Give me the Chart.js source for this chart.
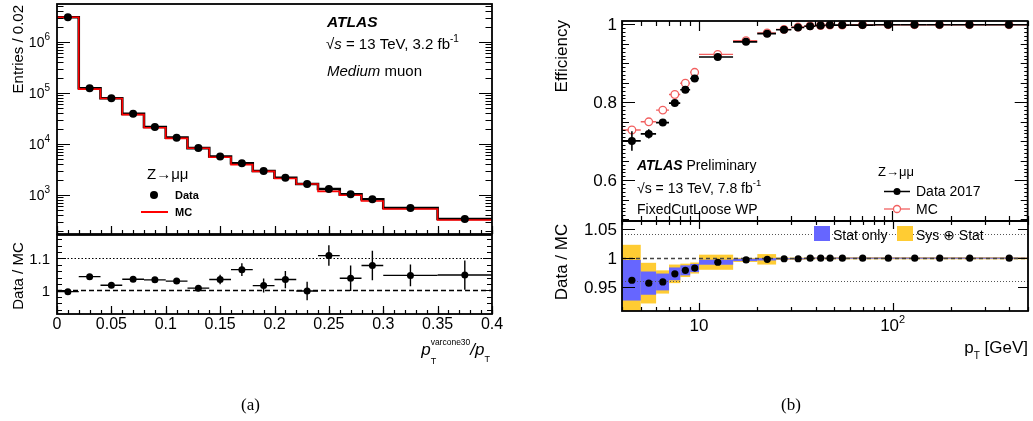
<!DOCTYPE html>
<html>
<head>
<meta charset="utf-8">
<script src="https://cdn.jsdelivr.net/npm/chart.js@4.4.1/dist/chart.umd.min.js"></script>
<style>
  html, body { margin: 0; padding: 0; background: #fff; }
  #wrap { position: relative; width: 1033px; height: 421px; }
  #wrap canvas { position: absolute; left: 0; top: 0; width: 1033px; height: 421px; }
</style>
</head>
<body>
<div id="wrap">
  <canvas id="isoMain" width="1033" height="421"></canvas>
  <canvas id="isoRatio" width="1033" height="421"></canvas>
  <canvas id="effMain" width="1033" height="421"></canvas>
  <canvas id="effRatio" width="1033" height="421"></canvas>
</div>
<script>
// (a) isolation variable, bins of 0.02 then two wide bins
const isoEdges = [0, 0.02, 0.04, 0.06, 0.08, 0.10, 0.12, 0.14, 0.16, 0.18, 0.20, 0.22, 0.24, 0.26, 0.28, 0.30, 0.35, 0.40];
const isoData = [3.05e6, 1.24e5, 7.9e4, 3.9e4, 2.15e4, 1.33e4, 8300, 5700, 4200, 2950, 2180, 1640, 1310, 1030, 824, 556, 339];
const isoMC = [3.06e6, 1.19e5, 7.78e4, 3.77e4, 2.08e4, 1.29e4, 8240, 5510, 3940, 2910, 2110, 1640, 1180, 992, 764, 531, 323];
const isoRatio = [0.996, 1.043, 1.016, 1.035, 1.033, 1.029, 1.007, 1.034, 1.065, 1.015, 1.034, 0.998, 1.109, 1.038, 1.078, 1.047, 1.048];
const isoRatioErr = [0.003, 0.005, 0.005, 0.005, 0.006, 0.007, 0.01, 0.015, 0.02, 0.022, 0.027, 0.029, 0.032, 0.04, 0.046, 0.034, 0.046];

// (b) efficiency vs pT
const ptEdges = [4, 5, 6, 7, 8, 9, 10, 15, 20, 25, 30, 35, 40, 45, 50, 60, 80, 110, 150, 200, 300, 500];
const effData = [0.701, 0.719, 0.748, 0.798, 0.832, 0.861, 0.916, 0.955, 0.976, 0.986, 0.992, 0.995, 0.997, 0.998, 0.998, 0.998, 0.999, 0.999, 0.999, 0.999, 0.999];
const effDataErr = [0.025, 0.012, 0.008, 0.006, 0.005, 0.004, 0.003, 0.002, 0.001, 0.001, 0, 0, 0, 0, 0, 0, 0, 0, 0, 0, 0];
const effMC = [0.729, 0.750, 0.780, 0.820, 0.849, 0.877, 0.923, 0.958, 0.978, 0.987, 0.993, 0.996, 0.997, 0.998, 0.998, 0.999, 0.999, 0.999, 0.999, 0.999, 0.999];
const sfRatio = [0.961, 0.956, 0.958, 0.972, 0.978, 0.982, 0.992, 0.996, 0.997, 0.998, 0.998, 0.999, 0.999, 0.999, 0.999, 0.999, 0.999, 0.999, 0.999, 0.999, 0.999];
const sfStat = [0.035, 0.02, 0.0145, 0.011, 0.0086, 0.007, 0.0043, 0.002, 0.002, 0.001, 0.001, 0.001, 0.001, 0.001, 0.001, 0.001, 0.001, 0.001, 0.001, 0.001, 0.001];
const sfTot = [0.061, 0.035, 0.02, 0.016, 0.0115, 0.0095, 0.013, 0.0035, 0.009, 0.002, 0.002, 0.002, 0.002, 0.002, 0.002, 0.002, 0.002, 0.002, 0.002, 0.002, 0.002];

const F = (s, st) => (st ? st + ' ' : '') + s + 'px "Liberation Sans", "DejaVu Sans", sans-serif';
const P = (t, f, dy, stay) => ({ t, f, dy, stay });

// text made of pieces (sup / sub / italic)
function rich(ctx, x, y, parts, align, rot) {
  ctx.save();
  ctx.translate(x, y);
  if (rot) ctx.rotate(rot);
  ctx.textAlign = 'left';
  ctx.textBaseline = 'alphabetic';
  let w = 0;
  parts.forEach(p => { ctx.font = p.f; if (!p.stay) w += ctx.measureText(p.t).width; });
  let cx = align === 'right' ? -w : align === 'center' ? -w / 2 : 0;
  parts.forEach(p => {
    ctx.font = p.f;
    ctx.fillStyle = '#000';
    ctx.fillText(p.t, cx, p.dy || 0);
    if (!p.stay) cx += ctx.measureText(p.t).width;
  });
  ctx.restore();
}

const deco = {
  id: 'deco',
  beforeDatasetsDraw(chart, args, o) {
    const { ctx, chartArea: a, scales: { x, y } } = chart;
    ctx.save();
    ctx.beginPath(); ctx.rect(a.left, a.top, a.width, a.height); ctx.clip();
    (o.bands || []).forEach(b => {
      ctx.fillStyle = b.color;
      b.mid.forEach((m, i) => {
        const x0 = x.getPixelForValue(b.edges[i]), x1 = x.getPixelForValue(b.edges[i + 1]);
        const y0 = y.getPixelForValue(m + b.err[i]), y1 = y.getPixelForValue(m - b.err[i]);
        ctx.fillRect(x0, y0, x1 - x0, y1 - y0);
      });
    });
    (o.hlines || []).forEach(l => {
      const py = Math.round(y.getPixelForValue(l.v)) + 0.5;
      ctx.beginPath();
      ctx.setLineDash(l.dash || []);
      ctx.strokeStyle = l.color || '#000';
      ctx.lineWidth = l.w || 1;
      ctx.moveTo(a.left, py); ctx.lineTo(a.right, py);
      ctx.stroke();
    });
    ctx.restore();
  },
  beforeDatasetDraw(chart, args) {
    const ds = chart.data.datasets[args.index];
    if (!ds.errX && !ds.errY) return;
    const { ctx, chartArea: a, scales: { x, y } } = chart;
    ctx.save();
    ctx.beginPath(); ctx.rect(a.left, a.top, a.width, a.height); ctx.clip();
    ctx.strokeStyle = ds.errColor || '#000';
    ctx.lineWidth = ds.errWidth || 1.5;
    ds.data.forEach((p, i) => {
      const px = x.getPixelForValue(p.x), py = y.getPixelForValue(p.y);
      ctx.beginPath();
      if (ds.errX) {
        ctx.moveTo(x.getPixelForValue(ds.errX[i][0]), py);
        ctx.lineTo(x.getPixelForValue(ds.errX[i][1]), py);
      }
      if (ds.errY && ds.errY[i]) {
        ctx.moveTo(px, y.getPixelForValue(p.y + ds.errY[i]));
        ctx.lineTo(px, y.getPixelForValue(p.y - ds.errY[i]));
      }
      ctx.stroke();
    });
    ctx.restore();
  },
  afterDraw(chart, args, o) {
    const { ctx, chartArea: a, scales } = chart;
    ctx.save();
    ctx.strokeStyle = '#000';
    ctx.lineWidth = 1.2;
    (o.ticks || []).forEach(t => {
      const s = scales[t.axis];
      ctx.beginPath();
      t.vals.forEach(v => {
        if (v < s.min - 1e-9 || v > s.max + 1e-9) return;
        const p = Math.round(s.getPixelForValue(v)) + 0.5;
        if (t.side === 'bottom') { ctx.moveTo(p, a.bottom); ctx.lineTo(p, a.bottom - t.len); }
        if (t.side === 'top') { ctx.moveTo(p, a.top); ctx.lineTo(p, a.top + t.len); }
        if (t.side === 'left') { ctx.moveTo(a.left, p); ctx.lineTo(a.left + t.len, p); }
        if (t.side === 'right') { ctx.moveTo(a.right, p); ctx.lineTo(a.right - t.len, p); }
      });
      ctx.stroke();
    });
    ctx.lineWidth = 1.8;
    ctx.strokeRect(a.left, a.top, a.width, a.height);
    (o.labels || []).forEach(l => {
      const p = scales[l.axis].getPixelForValue(l.v);
      if (l.axis === 'x') rich(ctx, p, l.y, l.parts, 'center');
      else rich(ctx, l.x, p + l.dy, l.parts, 'right');
    });
    (o.marks || []).forEach(m => {
      ctx.setLineDash([]);
      if (m.type === 'line') {
        ctx.beginPath(); ctx.strokeStyle = m.color; ctx.lineWidth = m.w;
        ctx.moveTo(m.x1, m.y); ctx.lineTo(m.x2, m.y); ctx.stroke();
      } else if (m.type === 'dot') {
        ctx.beginPath(); ctx.arc(m.x, m.y, m.r, 0, Math.PI * 2);
        ctx.fillStyle = m.fill; ctx.fill();
        if (m.stroke) { ctx.strokeStyle = m.stroke; ctx.lineWidth = 1.3; ctx.stroke(); }
      } else if (m.type === 'rect') {
        ctx.fillStyle = m.fill; ctx.fillRect(m.x, m.y, m.w, m.h);
      }
    });
    (o.texts || []).forEach(t => rich(ctx, t.x, t.y, t.parts, t.align, t.rot));
    ctx.restore();
  }
};
Chart.register(deco);

function opts(pad, xs, ys, d) {
  return {
    responsive: false, animation: false, events: [],
    layout: { padding: pad },
    plugins: { legend: { display: false }, tooltip: { enabled: false }, deco: d },
    scales: { x: Object.assign({ display: false }, xs), y: Object.assign({ display: false }, ys) }
  };
}

const range = (a, b, st) => { const r = []; for (let v = a; v <= b + 1e-9; v += st) r.push(+v.toFixed(4)); return r; };
const logMinor = (d0, d1) => { const r = []; for (let d = d0; d <= d1; d++) for (let m = 2; m <= 9; m++) r.push(m * Math.pow(10, d)); return r; };
const mids = e => e.slice(0, -1).map((v, i) => (v + e[i + 1]) / 2);
const bins = e => e.slice(0, -1).map((v, i) => [v, e[i + 1]]);
const steps = (e, vals) => e.map((v, i) => ({ x: v, y: vals[Math.min(i, vals.length - 1)] }));

const isoC = mids(isoEdges);
const ptC = mids(ptEdges);
const rot = -Math.PI / 2;
const isoMajor = range(0, 0.4, 0.05), isoMinor = range(0, 0.4, 0.01);

// ---------- (a) main ----------
new Chart(document.getElementById('isoMain'), {
  type: 'scatter',
  data: { datasets: [
    { data: isoC.map((x, i) => ({ x, y: isoData[i] })), pointRadius: 4, pointBackgroundColor: '#000', pointBorderWidth: 0 },
    { type: 'line', data: steps(isoEdges, isoMC), stepped: 'before', borderColor: '#ff0000', borderWidth: 1.6, pointRadius: 0 },
    { type: 'line', data: steps(isoEdges, isoData), stepped: 'before', borderColor: '#000', borderWidth: 2.6, pointRadius: 0 }
  ]},
  options: opts({ left: 57, top: 4, right: 541, bottom: 187 },
    { type: 'linear', min: 0, max: 0.4 },
    { type: 'logarithmic', min: 172, max: 5.55e6 },
    {
      ticks: [
        { axis: 'x', side: 'bottom', vals: isoMajor, len: 8 },
        { axis: 'x', side: 'bottom', vals: isoMinor, len: 4 },
        { axis: 'y', side: 'left', vals: [1e3, 1e4, 1e5, 1e6], len: 13 },
        { axis: 'y', side: 'left', vals: logMinor(2, 6), len: 6.5 },
        { axis: 'y', side: 'right', vals: [1e3, 1e4, 1e5, 1e6], len: 13 },
        { axis: 'y', side: 'right', vals: logMinor(2, 6), len: 6.5 }
      ],
      labels: [3, 4, 5, 6].map(e => ({ axis: 'y', v: Math.pow(10, e), x: 50, dy: 5, parts: [P('10', F(14)), P(String(e), F(10), -7)] })),
      marks: [
        { type: 'dot', x: 154, y: 195, r: 4, fill: '#000' },
        { type: 'line', x1: 141, x2: 168, y: 212, color: '#ff0000', w: 2 }
      ],
      texts: [
        { x: 23, y: 5, rot, align: 'right', parts: [P('Entries / 0.02', F(15))] },
        { x: 327, y: 27, parts: [P('ATLAS', F(15.5, 'italic bold'))] },
        { x: 326, y: 49, parts: [P('√', F(15)), P('s', F(15, 'italic')), P(' = 13 TeV, 3.2 fb', F(15)), P('-1', F(10), -7)] },
        { x: 327, y: 76, parts: [P('Medium', F(15, 'italic')), P(' muon', F(15))] },
        { x: 147, y: 179, parts: [P('Z→μμ', F(15))] },
        { x: 175, y: 199, parts: [P('Data', F(11, 'bold'))] },
        { x: 175, y: 216, parts: [P('MC', F(11, 'bold'))] },
        { x: 241, y: 410, parts: [P('(a)', '17px "Liberation Serif", serif')] }
      ]
    })
});

// ---------- (a) ratio ----------
new Chart(document.getElementById('isoRatio'), {
  type: 'scatter',
  data: { datasets: [
    { data: isoC.map((x, i) => ({ x, y: isoRatio[i] })), errX: bins(isoEdges), errY: isoRatioErr, errWidth: 1.4,
      pointRadius: 3.5, pointBackgroundColor: '#000', pointBorderWidth: 0 }
  ]},
  options: opts({ left: 57, top: 235, right: 541, bottom: 107 },
    { type: 'linear', min: 0, max: 0.4 },
    { type: 'linear', min: 0.926, max: 1.1735 },
    {
      hlines: [{ v: 1, dash: [5, 3], w: 1.3 }, { v: 1.1, dash: [1.5, 2], w: 1.2 }],
      ticks: [
        { axis: 'x', side: 'bottom', vals: isoMajor, len: 8 },
        { axis: 'x', side: 'bottom', vals: isoMinor, len: 4 },
        { axis: 'y', side: 'left', vals: [1, 1.1], len: 9 },
        { axis: 'y', side: 'left', vals: range(0.94, 1.16, 0.02), len: 5 },
        { axis: 'y', side: 'right', vals: [1, 1.1], len: 9 },
        { axis: 'y', side: 'right', vals: range(0.94, 1.16, 0.02), len: 5 }
      ],
      labels: [
        { axis: 'y', v: 1.1, x: 50, dy: 5.5, parts: [P('1.1', F(15))] },
        { axis: 'y', v: 1, x: 50, dy: 5.5, parts: [P('1', F(15))] }
      ].concat(isoMajor.map(v => ({ axis: 'x', v, y: 329, parts: [P(String(v), F(16))] }))),
      texts: [
        { x: 23, y: 276, rot, align: 'center', parts: [P('Data / MC', F(15))] },
        { x: 490, y: 355, align: 'right', parts: [
          P('p', F(17, 'italic')), P('T', F(9), 9, true), P('varcone30', F(8.5), -10),
          P('/', F(17, 'italic')), P('p', F(17, 'italic')), P('T', F(9), 7)] }
      ]
    })
});

// ---------- (b) main ----------
const effMajor = [0.6, 0.8, 1.0];
new Chart(document.getElementById('effMain'), {
  type: 'scatter',
  data: { datasets: [
    { data: ptC.map((x, i) => ({ x, y: effData[i] })), errX: bins(ptEdges), errY: effDataErr, errWidth: 1.6,
      pointRadius: 4, pointBackgroundColor: '#000', pointBorderWidth: 0 },
    { data: ptC.map((x, i) => ({ x, y: effMC[i] })), errX: bins(ptEdges), errColor: '#f26060', errWidth: 1.4,
      pointRadius: 3.8, pointBackgroundColor: '#fff', pointBorderColor: '#f26060', pointBorderWidth: 1.3 }
  ]},
  options: opts({ left: 622, top: 21, right: 5, bottom: 200 },
    { type: 'logarithmic', min: 4, max: 500 },
    { type: 'linear', min: 0.4956, max: 1.0085 },
    {
      ticks: [
        { axis: 'x', side: 'bottom', vals: [10, 100], len: 10 },
        { axis: 'x', side: 'bottom', vals: logMinor(0, 2), len: 5 },
        { axis: 'x', side: 'top', vals: [10, 100], len: 10 },
        { axis: 'x', side: 'top', vals: logMinor(0, 2), len: 5 },
        { axis: 'y', side: 'left', vals: effMajor, len: 13 },
        { axis: 'y', side: 'left', vals: range(0.5, 1, 0.05), len: 7 },
        { axis: 'y', side: 'left', vals: range(0.5, 1, 0.01), len: 3.5 },
        { axis: 'y', side: 'right', vals: effMajor, len: 13 },
        { axis: 'y', side: 'right', vals: range(0.5, 1, 0.05), len: 7 },
        { axis: 'y', side: 'right', vals: range(0.5, 1, 0.01), len: 3.5 }
      ],
      labels: effMajor.map(v => ({ axis: 'y', v, x: 617, dy: 6, parts: [P(String(v), F(17))] })),
      marks: [
        { type: 'line', x1: 884, x2: 910, y: 191.5, color: '#000', w: 1.5 },
        { type: 'dot', x: 897, y: 191.5, r: 3.5, fill: '#000' },
        { type: 'line', x1: 884, x2: 910, y: 209, color: '#f26060', w: 1.3 },
        { type: 'dot', x: 897, y: 209, r: 3.5, fill: '#fff', stroke: '#f26060' }
      ],
      texts: [
        { x: 567, y: 20, rot, align: 'right', parts: [P('Efficiency', F(17))] },
        { x: 637, y: 170, parts: [P('ATLAS', F(14, 'italic bold')), P(' Preliminary', F(14))] },
        { x: 637, y: 193, parts: [P('√s = 13 TeV, 7.8 fb', F(14)), P('-1', F(9.5), -7)] },
        { x: 637, y: 214, parts: [P('FixedCutLoose WP', F(14))] },
        { x: 878, y: 176, parts: [P('Z→μμ', F(13))] },
        { x: 916, y: 196, parts: [P('Data 2017', F(14))] },
        { x: 916, y: 214, parts: [P('MC', F(14))] },
        { x: 781, y: 410, parts: [P('(b)', '17px "Liberation Serif", serif')] }
      ]
    })
});

// ---------- (b) ratio ----------
new Chart(document.getElementById('effRatio'), {
  type: 'scatter',
  data: { datasets: [
    { data: ptC.map((x, i) => ({ x, y: sfRatio[i] })), pointRadius: 3.6, pointBackgroundColor: '#000', pointBorderWidth: 0 }
  ]},
  options: opts({ left: 622, top: 221, right: 5, bottom: 110 },
    { type: 'logarithmic', min: 4, max: 500 },
    { type: 'linear', min: 0.908, max: 1.063 },
    {
      bands: [
        { edges: ptEdges, mid: sfRatio, err: sfTot, color: '#ffcc33' },
        { edges: ptEdges, mid: sfRatio, err: sfStat, color: '#6666ff' }
      ],
      hlines: [
        { v: 1, dash: [4, 3], color: '#444', w: 1.3 },
        { v: 1.04, dash: [1, 2], color: '#555', w: 1 },
        { v: 0.96, dash: [1, 2], color: '#555', w: 1 }
      ],
      ticks: [
        { axis: 'x', side: 'bottom', vals: [10, 100], len: 8 },
        { axis: 'x', side: 'bottom', vals: logMinor(0, 2), len: 4 },
        { axis: 'x', side: 'top', vals: [10, 100], len: 8 },
        { axis: 'x', side: 'top', vals: logMinor(0, 2), len: 4 },
        { axis: 'y', side: 'left', vals: [0.95, 1, 1.05], len: 13 },
        { axis: 'y', side: 'right', vals: [0.95, 1, 1.05], len: 10 }
      ],
      labels: [
        { axis: 'y', v: 1.05, x: 617, dy: 6, parts: [P('1.05', F(17))] },
        { axis: 'y', v: 1, x: 617, dy: 6, parts: [P('1', F(17))] },
        { axis: 'y', v: 0.95, x: 617, dy: 6, parts: [P('0.95', F(17))] },
        { axis: 'x', v: 10, y: 331, parts: [P('10', F(17))] },
        { axis: 'x', v: 100, y: 331, parts: [P('10', F(17)), P('2', F(11), -8)] }
      ],
      marks: [
        { type: 'rect', x: 814, y: 226, w: 16, h: 15, fill: '#6666ff' },
        { type: 'rect', x: 897, y: 226, w: 16, h: 15, fill: '#ffcc33' }
      ],
      texts: [
        { x: 567, y: 262, rot, align: 'center', parts: [P('Data / MC', F(17))] },
        { x: 833, y: 240, parts: [P('Stat only', F(14))] },
        { x: 916, y: 240, parts: [P('Sys ⊕ Stat', F(14))] },
        { x: 1028, y: 353, align: 'right', parts: [P('p', F(17)), P('T', F(10), 6), P(' [GeV]', F(17))] }
      ]
    })
});
</script>
</body>
</html>
